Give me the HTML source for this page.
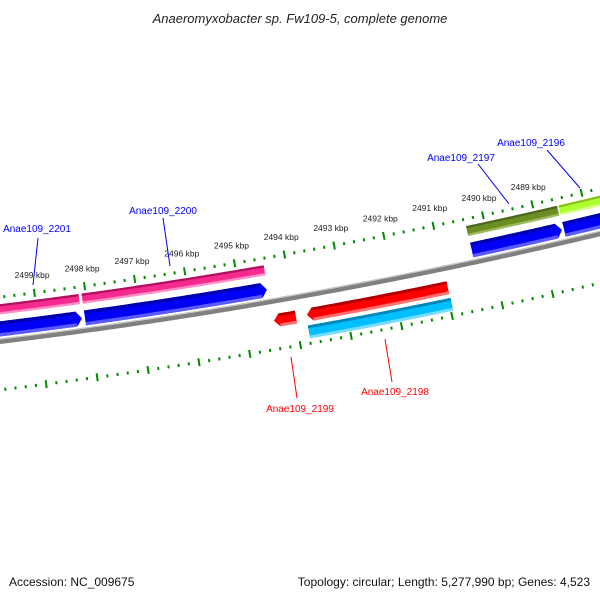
<!DOCTYPE html>
<html><head><meta charset="utf-8"><style>
html,body{margin:0;padding:0;background:#fff}
svg{display:block}
text{font-family:"Liberation Sans","DejaVu Sans",sans-serif}
</style></head><body>
<svg id="chart" width="600" height="600" viewBox="0 0 600 600" xmlns="http://www.w3.org/2000/svg">
<rect width="600" height="600" fill="#fff"/>
<text x="300" y="23" text-anchor="middle" font-size="13" font-style="italic" fill="#222">Anaeromyxobacter sp. Fw109-5, complete genome</text>
<g id="scales"></g>
<g id="backbone"></g>
<g id="features"></g>
<g id="labels">
<line x1="38" y1="238" x2="33" y2="285" stroke="#0000ff" stroke-width="1"/>
<text x="37" y="232" text-anchor="middle" font-size="10" fill="#0000ff">Anae109_2201</text>
<line x1="163" y1="218" x2="170" y2="266" stroke="#0000ff" stroke-width="1"/>
<text x="163" y="214" text-anchor="middle" font-size="10" fill="#0000ff">Anae109_2200</text>
<line x1="478" y1="164" x2="509" y2="204" stroke="#0000ff" stroke-width="1"/>
<text x="461" y="161" text-anchor="middle" font-size="10" fill="#0000ff">Anae109_2197</text>
<line x1="547" y1="150" x2="580" y2="188" stroke="#0000ff" stroke-width="1"/>
<text x="531" y="146" text-anchor="middle" font-size="10" fill="#0000ff">Anae109_2196</text>
<line x1="291" y1="357" x2="297" y2="398" stroke="#ff0000" stroke-width="1"/>
<text x="300" y="412" text-anchor="middle" font-size="10" fill="#ff0000">Anae109_2199</text>
<line x1="385" y1="339" x2="392" y2="382" stroke="#ff0000" stroke-width="1"/>
<text x="395" y="395" text-anchor="middle" font-size="10" fill="#ff0000">Anae109_2198</text>
</g>
<text x="9" y="586" font-size="12" fill="#111">Accession: NC_009675</text>
<text x="590" y="586" text-anchor="end" font-size="12" fill="#111">Topology: circular; Length: 5,277,990 bp; Genes: 4,523</text>
</svg>
<script>
// geometry
const CX=-639, CY=-4940, R0=5320;
const REF_BP=2499000, REF_DEG=7.333, DEG_PER_BP=0.0005493;
// data
const tickStart=2486000, tickEnd=2501600, tickStep=200;
const majorTicks=[2488000,2489000,2490000,2491000,2492000,2493000,2494000,2495000,2496000,2497000,2498000,2499000,2500000,2501000];
const tickLabels=["2489 kbp","2490 kbp","2491 kbp","2492 kbp","2493 kbp","2494 kbp","2495 kbp","2496 kbp","2497 kbp","2498 kbp","2499 kbp"];
const tickLabelBp=[2489000,2490000,2491000,2492000,2493000,2494000,2495000,2496000,2497000,2498000,2499000];
const boxNames=["anae109-2201-box","anae109-2200-box","anae109-2197-box","anae109-2196-box"];
const boxStarts=[2500600,2498080,2490370,2488500];
const boxEnds=[2498140,2494440,2488530,2486000];
const boxColors=[["#b0105e","#f52a8e","#ff8cc6"],["#b0105e","#f52a8e","#ff8cc6"],["#4d661a","#6b8e23","#9db85e"],["#84c21a","#adff2f","#d4ff88"]];
const upArrowNames=["anae109-2201-cds","anae109-2200-cds","anae109-2197-cds","anae109-2196-cds"];
const upArrowStarts=[2500600,2498077,2490358,2488501];
const upArrowEnds=[2498137,2494458,2488541,2486000];
const lowArrowNames=["anae109-2199-cds","anae109-2198-cds"];
const lowArrowStarts=[2493990,2490968];
const lowArrowEnds=[2494428,2493773];
const cyanNames=["anae109-2198-gene"];
const cyanStarts=[2490957];
const cyanEnds=[2493793];

const NS="http://www.w3.org/2000/svg";
function ang(bp){return (REF_DEG+(REF_BP-bp)*DEG_PER_BP)*Math.PI/180;}
function pt(r,a){return [CX+r*Math.sin(a),CY+r*Math.cos(a)];}
function arcPts(r,a1,a2){const n=Math.max(2,Math.ceil(Math.abs(a2-a1)/0.0005));const p=[];for(let i=0;i<=n;i++){p.push(pt(r,a1+(a2-a1)*i/n));}return p;}
function sectorPts(bp1,bp2,r1,r2){const a1=ang(bp1),a2=ang(bp2);return arcPts(r1,a1,a2).concat(arcPts(r2,a2,a1));}
function poly(parent,pts,fill,name){const e=document.createElementNS(NS,"polygon");
e.setAttribute("points",pts.map(p=>p[0].toFixed(2)+","+p[1].toFixed(2)).join(" "));
e.setAttribute("fill",fill);


parent.appendChild(e);return e;}
function shadedBox(parent,bp1,bp2,r1,r2,cols,name){
 const g=document.createElementNS(NS,"g");
 
 
 parent.appendChild(g);
 const h=(r2-r1);
 poly(g,sectorPts(bp1,bp2,r1,r2),cols[1],name+"-body");
 poly(g,sectorPts(bp1,bp2,r1,r1+h*0.22),cols[0],name+"-dark");
 poly(g,sectorPts(bp1,bp2,r2-h*0.22,r2),cols[2],name+"-light");
}
// arrow: tip at bpTip, tail at bpTail
function shadedArrow(parent,bpTail,bpTip,r1,r2,cols,name){
 const g=document.createElementNS(NS,"g");
 
 
 parent.appendChild(g);
 const h=r2-r1, dir=bpTip>bpTail?1:-1, head=110;
 const bpHead=bpTip-dir*head;
 const at=ang(bpTail), ah=ang(bpHead), ap=ang(bpTip);
 const pts=arcPts(r1,at,ah).concat([pt((r1+r2)/2,ap)]).concat(arcPts(r2,ah,at));
 poly(g,pts,cols[1],name+"-body");
 poly(g,sectorPts(bpTail,bpHead,r1,r1+h*0.22),cols[0],name+"-dark");
 poly(g,sectorPts(bpTail,bpHead,r2-h*0.22,r2),cols[2],name+"-light");
}
// scales
const sc=document.getElementById("scales");
function tickLine(rc,bp,len,name){const a=ang(bp);const p1=pt(rc-len/2,a),p2=pt(rc+len/2,a);
 const l=document.createElementNS(NS,"line");
 l.setAttribute("x1",p1[0]);l.setAttribute("y1",p1[1]);l.setAttribute("x2",p2[0]);l.setAttribute("y2",p2[1]);
 l.setAttribute("stroke","#008a00");l.setAttribute("stroke-width","2");
 
 
 sc.appendChild(l);}
for(let bp=tickStart;bp<=tickEnd;bp+=tickStep){
 const major=majorTicks.indexOf(bp)>=0;
 tickLine(R0-44,bp,major?8:3,major?"upper-major-tick":"upper-minor-tick");
 tickLine(R0+48,bp,major?8:3,major?"lower-major-tick":"lower-minor-tick");
}
for(let i=0;i<tickLabels.length;i++){
 const p=pt(R0-62,ang(tickLabelBp[i]));
 const t=document.createElementNS(NS,"text");
 t.setAttribute("x",p[0]);t.setAttribute("y",p[1]+3);
 t.setAttribute("text-anchor","middle");t.setAttribute("font-size","8.5");t.setAttribute("fill","#222");
 
 
 t.textContent=tickLabels[i];sc.appendChild(t);
}
// backbone
const bb=document.getElementById("backbone");
poly(bb,sectorPts(2486000,2501600,R0-3,R0+2.5),"#808080","backbone-band");
poly(bb,sectorPts(2486000,2501600,R0-3,R0-1.8),"#c8c8c8","backbone-highlight");
// features
const fg=document.getElementById("features");
for(let i=0;i<boxStarts.length;i++) shadedBox(fg,boxStarts[i],boxEnds[i],R0-37,R0-27,boxColors[i],boxNames[i]);
for(let i=0;i<upArrowStarts.length;i++) shadedArrow(fg,upArrowStarts[i],upArrowEnds[i],R0-20,R0-5,["#0000b0","#0000f5","#5a5aff"],upArrowNames[i]);
for(let i=0;i<lowArrowStarts.length;i++) shadedArrow(fg,lowArrowStarts[i],lowArrowEnds[i],R0+13,R0+26,["#b00000","#ff0000","#ff7070"],lowArrowNames[i]);
for(let i=0;i<cyanStarts.length;i++) shadedBox(fg,cyanStarts[i],cyanEnds[i],R0+30,R0+43,["#0088bb","#00bfff","#77dcff"],cyanNames[i]);
</script>
</body></html>
